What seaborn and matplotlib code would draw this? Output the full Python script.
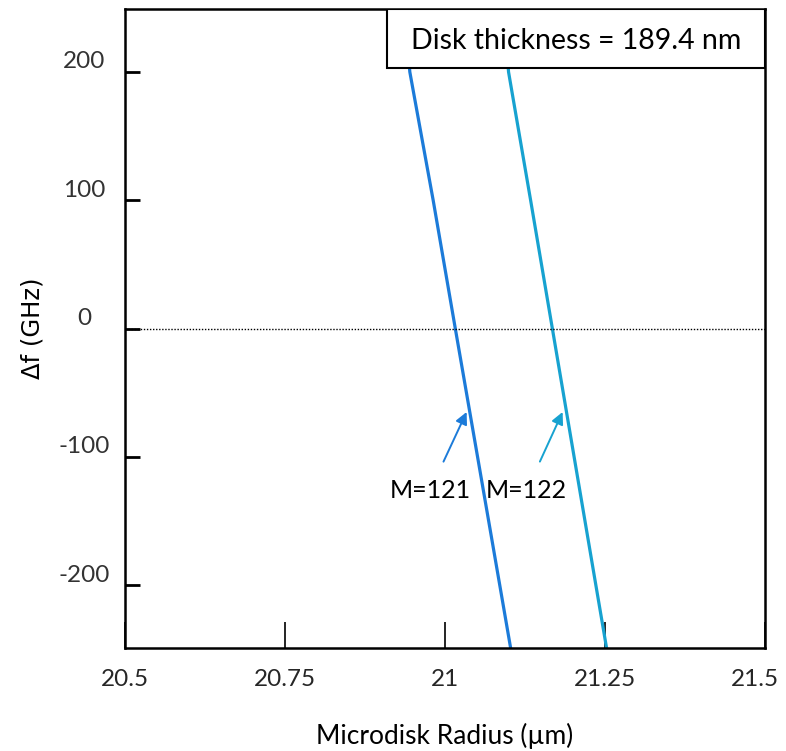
import matplotlib
matplotlib.use('Agg')

import matplotlib.pyplot as plt
import matplotlib.transforms as mtransforms
from matplotlib.patches import Rectangle
import seaborn as sns
import pandas as pd

# detuning (GHz) vs. microdisk radius (um)
df_ghz = [250, 200, 100, 0, -100, -200, -260]
radius_m121 = [20.937, 20.9452, 20.9817, 21.0163, 21.0511, 21.0858, 21.1066]
radius_m122 = [21.092, 21.0995, 21.1340, 21.1680, 21.2020, 21.2360, 21.2565]
mode_labels = ["M=121", "M=122"]
mode_colors = ["#1c7bd9", "#17a2d0"]

x_ticks = [20.5, 20.75, 21, 21.25, 21.5]
x_ticklabels = ["20.5", "20.75", "21", "21.25", "21.5"]
y_ticks = [200, 100, 0, -100, -200]
y_ticklabels = ["200", "100", "0", "-100", "-200"]

sns.set_theme(style="white")
plt.rcParams['font.family'] = ['Lato', 'DejaVu Sans']

df = pd.DataFrame({
    "radius": radius_m121 + radius_m122,
    "df": df_ghz + df_ghz,
    "mode": [mode_labels[0]] * len(df_ghz) + [mode_labels[1]] * len(df_ghz),
})

fig = plt.figure(figsize=(7.86, 7.51), dpi=100)
ax = fig.add_axes([0.159, 0.137, 0.814, 0.851])

sns.lineplot(data=df, x="radius", y="df", hue="mode", palette=mode_colors,
             sort=False, estimator=None, linewidth=2.3, legend=False, ax=ax)

ax.axhline(0, color="black", linestyle=(0, (1, 1.2)), linewidth=1.0)

ax.set_xlim(20.5, 21.5)
ax.set_ylim(-249, 249)

ax.set_xticks(x_ticks)
ax.set_xticklabels(x_ticklabels, fontsize=17.5, color="#262626")
ax.set_yticks(y_ticks)
ax.set_yticklabels(y_ticklabels, fontsize=17.5, color="#333333")
ax.tick_params(axis="x", bottom=True, direction="in", length=19, width=1.2,
               pad=15, color="black")
ax.tick_params(axis="y", left=True, direction="in", length=11, width=2,
               pad=29.5, color="black")

# y labels are centred and sit a bit above their ticks
offset = mtransforms.ScaledTranslation(0, 12 / 100, fig.dpi_scale_trans)
for lbl in ax.get_yticklabels():
    lbl.set_horizontalalignment("center")
    lbl.set_transform(lbl.get_transform() + offset)

# last x label is pulled in from the figure edge
last = ax.get_xticklabels()[-1]
last.set_transform(last.get_transform() +
                   mtransforms.ScaledTranslation(-10 / 100, 0, fig.dpi_scale_trans))

for s in ax.spines.values():
    s.set_color("black")
    s.set_linewidth(1.8)

ax.set_xlabel("Microdisk Radius (µm)", fontsize=19, labelpad=24, color="black")
ax.set_ylabel("Δf (GHz)", fontsize=17.5, labelpad=10, color="black",
              family="DejaVu Sans")

# box in top-right corner
ax.add_patch(Rectangle((0.409, 0.908), 0.591, 0.092, transform=ax.transAxes,
                       facecolor="white", edgecolor="black", linewidth=1.5,
                       zorder=5))
ax.text(0.7045, 0.950, "Disk thickness = 189.4 nm", transform=ax.transAxes,
        ha="center", va="center", fontsize=20.5, color="black", zorder=6)

# mode annotations
for lbl, col, tip, txt in [(mode_labels[0], mode_colors[0], (21.034, -65), (20.977, -126)),
                           (mode_labels[1], mode_colors[1], (21.184, -65), (21.128, -126))]:
    ax.annotate(lbl, xy=tip, xytext=txt, ha="center", va="center",
                fontsize=18, color="black",
                arrowprops=dict(arrowstyle="-|>", color=col, lw=1.4,
                                shrinkA=11, shrinkB=0, mutation_scale=18))

fig.savefig("out.png", dpi=100)
